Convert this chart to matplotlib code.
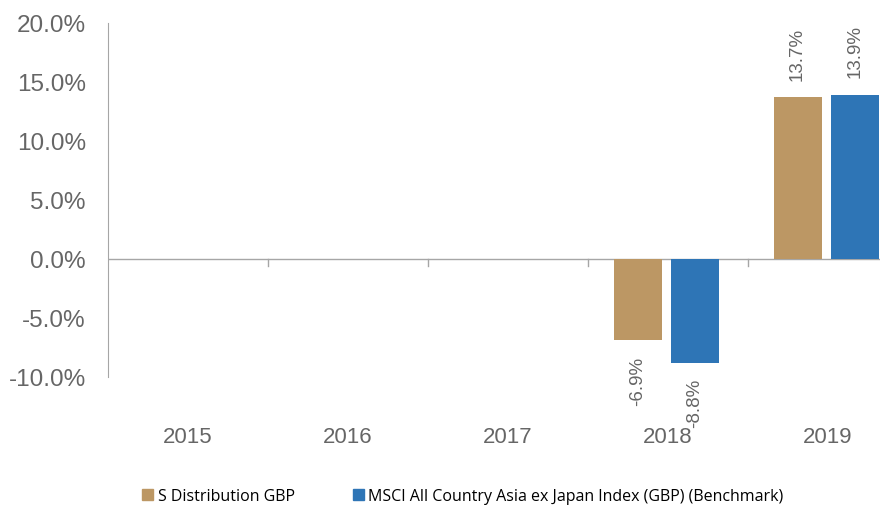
import numpy as np
import matplotlib.pyplot as plt
from matplotlib.patches import Patch

plt.rcParams["font.family"] = ["Liberation Sans", "DejaVu Sans"]

# data
anos = ["2015", "2016", "2017", "2018", "2019"]
fundo = [np.nan, np.nan, np.nan, -6.9, 13.7]
benchmark = [np.nan, np.nan, np.nan, -8.8, 13.9]
nome_fundo = "S Distribution GBP"
nome_bench = "MSCI All Country Asia ex Japan Index (GBP) (Benchmark)"

cor_fundo = "#BC9764"
cor_bench = "#2E75B6"
cinza = "#666666"

fig = plt.figure(figsize=(8.8, 5.06), dpi=100)
ax = fig.add_axes([0.1227, 0.253, 0.909, 0.6996])

x = np.arange(len(anos))
larg = 0.3
desl = 0.18

ax.bar(x - desl - 0.01, fundo, larg, color=cor_fundo)
ax.bar(x + desl - 0.01, benchmark, larg, color=cor_bench)

# rotulos
for xs, vals in [(x - desl - 0.01, fundo), (x + desl - 0.01, benchmark)]:
    for xi, v in zip(xs, vals):
        if np.isnan(v):
            continue
        if v >= 0:
            ax.text(xi, v + 1.5, f"{v:.1f}%", rotation=90, ha="center",
                    va="bottom", fontsize=13.5, color=cinza)
        else:
            ax.text(xi, v - 1.3, f"{v:.1f}%", rotation=90, ha="center",
                    va="top", fontsize=13.5, color=cinza)

ax.set_xlim(-0.5, 4.5)
ax.set_ylim(-10, 20)
ax.set_yticks([-10, -5, 0, 5, 10, 15, 20])
ax.set_yticklabels([f"{v:.1f}%" for v in [-10, -5, 0, 5, 10, 15, 20]])
ax.tick_params(axis="y", length=0, pad=16, labelsize=17.5, labelcolor=cinza)

ax.set_xticks(x)
ax.set_xticklabels(anos)
ax.tick_params(axis="x", length=0, pad=35, labelsize=16, labelcolor=cinza)

for s in ["top", "right", "bottom"]:
    ax.spines[s].set_visible(False)
ax.spines["left"].set_color("#A6A6A6")

# linha do zero e marcas
ax.axhline(0, color="#A6A6A6", lw=1, zorder=0)
for b in np.arange(0.5, 4.6, 1.0):
    ax.plot([b, b], [0, -0.6], color="#A6A6A6", lw=1, zorder=0)

handles = [Patch(color=cor_fundo), Patch(color=cor_bench)]
fig.legend(handles, [nome_fundo, nome_bench], loc="center",
           bbox_to_anchor=(0.526, 0.018), ncol=2, frameon=False,
           handlelength=0.7, handleheight=0.7,
           handletextpad=0.3, columnspacing=3.6,
           prop={"family": "Open Sans", "size": 11.5})

plt.savefig("out.png", dpi=100)
plt.close()
